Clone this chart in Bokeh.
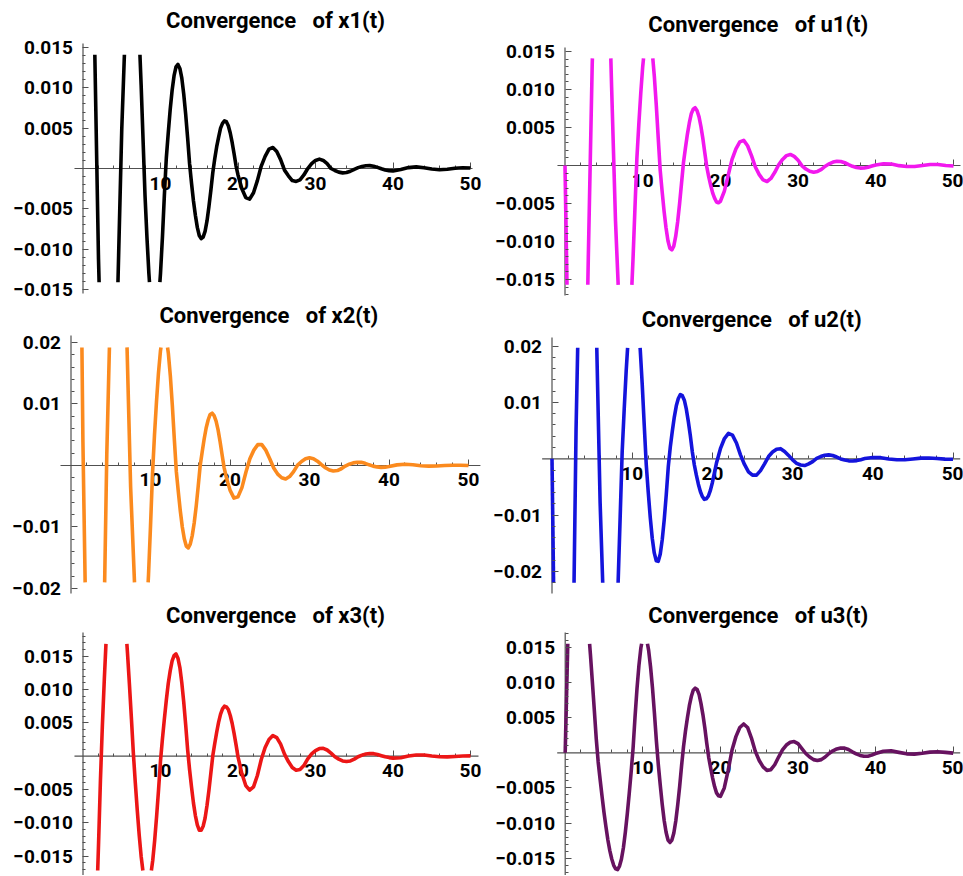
from bokeh.plotting import figure
from bokeh.layouts import column, row
from bokeh.models import Range1d, LinearAxis, FixedTicker, CustomJSTickFormatter, Label
from bokeh.embed import file_html
from bokeh.resources import INLINE

# time samples (t), main grid
t = [0, 0.5, 1, 1.5, 2, 2.5, 3, 3.5, 4, 4.5,
     5, 5.5, 6, 6.5, 7, 7.5, 8, 8.5, 9, 9.5,
     10, 10.5, 11, 11.5, 12, 12.5, 13, 13.5, 14, 14.5,
     15, 15.5, 16, 16.5, 17, 17.5, 18, 18.5, 19, 19.5,
     20, 20.5, 21, 21.5, 22, 22.5, 23, 23.5, 24, 24.5,
     25, 25.5, 26, 26.5, 27, 27.5, 28, 28.5, 29, 29.5,
     30, 30.5, 31, 31.5, 32, 32.5, 33, 33.5, 34, 34.5,
     35, 35.5, 36, 36.5, 37, 37.5, 38, 38.5, 39, 39.5,
     40, 41, 42, 43, 44, 45, 46, 47, 48, 49,
     50]

# extra read-off points where the curves bend strongly
t_q8 = [8.25, 8.75, 9.25, 9.75, 10.25, 10.75, 11.25, 11.75, 12.25, 12.75,
        13.25, 13.75, 14.25, 14.75, 15.25, 15.75, 16.25, 16.75, 17.25, 17.75,
        18.25, 18.75, 19.25, 19.75]
t_q2 = [2.25, 2.75, 3.25, 3.75, 4.25, 4.75, 5.25, 5.75, 6.25, 6.75,
        7.25, 7.75] + t_q8

x1 = [0.0628, 0.0609, 0.0437, 0.0155, -0.0112, -0.0299, -0.0412, -0.0420, -0.0323, -0.0145,
      0.0048, 0.0184, 0.0271, 0.0286, 0.0225, 0.0104, -0.0033, -0.0130, -0.0187, -0.0187,
      -0.0130, -0.0033, 0.0044, 0.0097, 0.0126, 0.0124, 0.0092, 0.0038, -0.0018, -0.0058,
      -0.0083, -0.0085, -0.0065, -0.0027, 0.0012, 0.0039, 0.0056, 0.0058, 0.0044, 0.0018,
      -0.0008, -0.0025, -0.0036, -0.0038, -0.0030, -0.0015, 0.0003, 0.0015, 0.0024, 0.0026,
      0.0021, 0.0011, -0.0002, -0.0009, -0.0015, -0.0016, -0.0014, -0.0008, 0.0000, 0.0006,
      0.0010, 0.00116, 0.0010, 0.0006, 0.0000, -0.00025, -0.00045, -0.00054, -0.0005, -0.00034,
      -0.0001, 0.00011, 0.00026, 0.00035, 0.00036, 0.00029, 0.00014, -0.00003, -0.00018, -0.00027,
      -0.0003, -0.00012, 0.00011, 0.0002, 0.0001, -0.00007, -0.00015, -0.00009, 0.00004, 0.0001,
      0.00007]
x1_q = [-0.0085, -0.0165, -0.0195, -0.0165, -0.0085, 0.0013, 0.0073, 0.0115, 0.0129, 0.0112,
        0.0067, 0.0006, -0.0040, -0.0073, -0.0087, -0.0078, -0.0047, -0.0005, 0.0027, 0.0050,
        0.0059, 0.0053, 0.0032, 0.0003]

u1 = [0.0, -0.0307, -0.0541, -0.0647, -0.0599, -0.0408, -0.0121, 0.0132, 0.0311, 0.0410,
      0.0402, 0.0290, 0.0103, -0.0073, -0.0195, -0.0263, -0.0258, -0.0182, -0.0057, 0.0054,
      0.0130, 0.0171, 0.0166, 0.0117, 0.0036, -0.0034, -0.0082, -0.0109, -0.0106, -0.0074,
      -0.0023, 0.0023, 0.0056, 0.0074, 0.0072, 0.0051, 0.0016, -0.0015, -0.0036, -0.0048,
      -0.0047, -0.0034, -0.0013, 0.0008, 0.0022, 0.0031, 0.0033, 0.0026, 0.0013, -0.0002,
      -0.0012, -0.0019, -0.0021, -0.0017, -0.0009, 0.0001, 0.0008, 0.0013, 0.00145, 0.0012,
      0.0007, -0.00004, -0.00046, -0.00076, -0.00088, -0.00078, -0.0005, -0.00009, 0.00022, 0.00045,
      0.00056, 0.00053, 0.00037, 0.00011, -0.00011, -0.00026, -0.00034, -0.00033, -0.00023, -0.00007,
      0.00007, 0.00024, 0.00019, -0.00002, -0.00014, -0.00013, 0.0, 0.00013, 0.00013, 0.0,
      -0.00007]
u1_q = [-0.0228, -0.0124, 0.0009, 0.0095, 0.0156, 0.0175, 0.0147, 0.0079, -0.0006, -0.0060,
        -0.0099, -0.0111, -0.0093, -0.0050, 0.0004, 0.0041, 0.0068, 0.0076, 0.0064, 0.0035,
        -0.0002, -0.0026, -0.0043, -0.0049]

x2 = [0.1197, 0.107, 0.0647, 0.0038, -0.0371, -0.0663, -0.077, -0.0663, -0.0371, 0.0017,
      0.0280, 0.0465, 0.0519, 0.0428, 0.0217, -0.0035, -0.0194, -0.0298, -0.0315, -0.0242,
      -0.0099, 0.0049, 0.0150, 0.0208, 0.0206, 0.0145, 0.0042, -0.0043, -0.0100, -0.0131,
      -0.0128, -0.0093, -0.0034, 0.0022, 0.0061, 0.0083, 0.0081, 0.0058, 0.0018, -0.0017,
      -0.0040, -0.0053, -0.0051, -0.0036, -0.0011, 0.0011, 0.0025, 0.0034, 0.0034, 0.0025,
      0.0011, -0.0004, -0.0014, -0.0020, -0.0022, -0.0018, -0.0010, 0.00006, 0.00065, 0.00108,
      0.00125, 0.00111, 0.0007, 0.00013, -0.00037, -0.00073, -0.0009, -0.00082, -0.00053, -0.00009,
      0.00021, 0.00043, 0.00053, 0.00051, 0.00035, 0.00011, -0.0001, -0.00023, -0.0003, -0.00027,
      -0.00016, 0.0001, 0.0002, 0.00011, -0.00004, -0.0001, -0.00007, 0.00001, 0.00005, 0.00004,
      0.0]
x2_q = [-0.0255, -0.0318, -0.0290, -0.0178, -0.0014, 0.0103, 0.0186, 0.0215, 0.0182, 0.0097,
        -0.0010, -0.0074, -0.0119, -0.0134, -0.0114, -0.0066, 0.0000, 0.0043, 0.0074, 0.0085,
        0.0072, 0.0039, -0.0003, -0.0029]

u2 = [0.0, -0.0562, -0.0966, -0.1099, -0.0924, -0.0489, 0.0053, 0.0405, 0.0640, 0.0695,
      0.0552, 0.0252, -0.0078, -0.0298, -0.0430, -0.0436, -0.0316, -0.0103, 0.0087, 0.0214,
      0.0283, 0.0276, 0.0194, 0.0060, -0.0059, -0.0141, -0.0181, -0.0169, -0.0107, -0.0014,
      0.0049, 0.0094, 0.0114, 0.0104, 0.0066, 0.0012, -0.0029, -0.0058, -0.0072, -0.0066,
      -0.0042, -0.0008, 0.0018, 0.0036, 0.0045, 0.0042, 0.0028, 0.0007, -0.0010, -0.0023,
      -0.0029, -0.0029, -0.0021, -0.0009, 0.0004, 0.0012, 0.0017, 0.0018, 0.0013, 0.0006,
      -0.0002, -0.0008, -0.0011, -0.0012, -0.0009, -0.0005, 0.00007, 0.0004, 0.00063, 0.0007,
      0.00058, 0.00031, -0.00002, -0.00022, -0.00036, -0.0004, -0.00032, -0.00015, 0.00004, 0.00015,
      0.00023, 0.0002, -0.00002, -0.00018, -0.00018, -0.00002, 0.00012, 0.00014, 0.00004, -0.00005,
      -0.00008]
u2_q = [-0.0217, 0.0012, 0.0156, 0.0258, 0.0290, 0.0244, 0.0132, -0.0010, -0.0104, -0.0167,
        -0.0182, -0.0143, -0.0063, 0.0021, 0.0074, 0.0107, 0.0112, 0.0088, 0.0041, -0.0011,
        -0.0045, -0.0067, -0.0071, -0.0056]

x3 = [-0.0546, -0.0534, -0.0454, -0.0315, -0.0134, 0.0046, 0.0178, 0.0275, 0.0319, 0.0309,
      0.0267, 0.0197, 0.0106, 0.0004, -0.0081, -0.0150, -0.0189, -0.0191, -0.0156, -0.0090,
      -0.0007, 0.0056, 0.0109, 0.0143, 0.01535, 0.0133, 0.0081, 0.0010, -0.0046, -0.0089,
      -0.0111, -0.0105, -0.0074, -0.0025, 0.0019, 0.0051, 0.0071, 0.0074, 0.0061, 0.0034,
      -0.0001, -0.0026, -0.0044, -0.0051, -0.0046, -0.0029, -0.0005, 0.0013, 0.0025, 0.0031,
      0.0028, 0.0018, 0.0003, -0.0008, -0.0017, -0.0021, -0.0020, -0.0014, -0.0004, 0.00035,
      0.00085, 0.00115, 0.00118, 0.00093, 0.00046, -0.00008, -0.00044, -0.00071, -0.0008, -0.00071,
      -0.00044, -0.00008, 0.00016, 0.00032, 0.0004, 0.00038, 0.00026, 0.00008, -0.00009, -0.00021,
      -0.00029, -0.00023, 0.00002, 0.00018, 0.00018, 0.00002, -0.00008, -0.0001, -0.00004, 0.00003,
      0.00005]
x3_q = [-0.0036, 0.0115, 0.0232, 0.0305, 0.0318, 0.0292, 0.0235, 0.0153, 0.0056, -0.0040,
        -0.0118, -0.0174, -0.0195, -0.0178, -0.0126, -0.0050, 0.0026, 0.0084, 0.0128, 0.0151,
        0.0147, 0.0110, 0.0047, -0.0020, -0.0070, -0.0103, -0.0111, -0.0093, -0.0051, 0.0001,
        0.0036, 0.0063, 0.0075, 0.0070, 0.0049, 0.0017]

u3 = [0.0, 0.0233, 0.0330, 0.0320, 0.0289, 0.0240, 0.0176, 0.0101, 0.0020, -0.0038,
      -0.0085, -0.0124, -0.0151, -0.0165, -0.0161, -0.0135, -0.0087, -0.0027, 0.0051, 0.0124,
      0.0164, 0.0161, 0.0122, 0.0056, -0.0017, -0.0073, -0.0113, -0.01275, -0.0114, -0.0074,
      -0.0018, 0.0031, 0.0067, 0.0089, 0.0090, 0.0070, 0.0035, -0.0007, -0.0036, -0.0057,
      -0.0062, -0.0050, -0.0025, 0.0004, 0.0023, 0.0036, 0.0041, 0.0036, 0.0021, 0.0002,
      -0.0011, -0.0020, -0.0025, -0.0024, -0.0017, -0.0006, 0.0004, 0.0011, 0.0015, 0.0016,
      0.0013, 0.0006, -0.0001, -0.0006, -0.00097, -0.0011, -0.00097, -0.0006, -0.0001, 0.00028,
      0.00055, 0.00069, 0.00066, 0.00046, 0.00014, -0.00015, -0.00037, -0.00049, -0.00048, -0.00033,
      -0.0001, 0.00022, 0.00029, 0.00006, -0.00015, -0.00019, -0.00006, 0.0001, 0.00015, 0.00006,
      -0.00005]
u3_q = [0.0267, 0.0210, 0.0140, 0.0061, -0.0013, -0.0062, -0.0105, -0.0139, -0.0160, -0.0166,
        -0.0151, -0.0113, -0.0058, 0.0007, 0.0091, 0.0149, 0.0168, 0.0146, 0.0092, 0.0017,
        -0.0046, -0.0096, -0.0124, -0.0124, -0.0097, -0.0048, 0.0009, 0.0050, 0.0080, 0.0092,
        0.0083, 0.0054, 0.0013, -0.0022, -0.0048, -0.0061]

x_major = [10, 20, 30, 40, 50]
x_minor = [2, 4, 6, 8, 12, 14, 16, 18, 22, 24, 26, 28, 32, 34, 36, 38, 42, 44, 46, 48]

y_major_3 = [-0.015, -0.010, -0.005, 0.005, 0.010, 0.015]
y_major_2 = [-0.02, -0.01, 0.01, 0.02]

FONT = "Roboto"
NB = "\u00a0"

panels = [
    dict(title="Convergence" + NB * 3 + "of x1(t)", y=x1, tq=t_q8, yq=x1_q, color="#000000", w=482, h=302,
         xr=(-10.645, 51.548), yr=(-0.016611, 0.020826), axx=(-1.1, 50.26), axy=(-0.0155, 0.0155),
         clip=(-0.0141, 0.0141), major=y_major_3, step=0.001, mk=(-15, 15), digits=3,
         tx=275, ty=281.7),
    dict(title="Convergence" + NB * 3 + "of u1(t)", y=u1, tq=t_q8, yq=u1_q, color="#F218EE", w=481, h=302,
         xr=(-10.618, 51.287), yr=(-0.018026, 0.021711), axx=(-0.97, 50.9), axy=(-0.01711, 0.01553),
         clip=(-0.0157, 0.0141), major=y_major_3, step=0.001, mk=(-17, 15), digits=3,
         tx=275.8, ty=278.3),
    dict(title="Convergence" + NB * 3 + "of x2(t)", y=x2, tq=t_q8, yq=x2_q, color="#FB8A1E", w=482, h=299,
         xr=(-8.868, 51.761), yr=(-0.022114, 0.026504), axx=(-1.32, 51.5), axy=(-0.0208, 0.02114),
         clip=(-0.0190, 0.0192), major=y_major_2, step=0.002, mk=(-10, 10), digits=2,
         tx=268.3, ty=285.7),
    dict(title="Convergence" + NB * 3 + "of u2(t)", y=u2, tq=t_q8, yq=u2_q, color="#1414DC", w=481, h=299,
         xr=(-8.666, 51.309), yr=(-0.025324, 0.027738), axx=(-1.23, 50.9), axy=(-0.0239, 0.02153),
         clip=(-0.0220, 0.0197), major=y_major_2, step=0.002, mk=(-11, 10), digits=2,
         tx=269.3, ty=282.3),
    dict(title="Convergence" + NB * 3 + "of x3(t)", y=x3, tq=t_q2, yq=x3_q, color="#EC1616", w=482, h=274,
         xr=(-10.645, 51.548), yr=(-0.017894, 0.023204), axx=(-1.1, 51.03), axy=(-0.01789, 0.01855),
         clip=(-0.01715, 0.01686), major=y_major_3, step=0.001, mk=(-17, 18), digits=3,
         tx=275, ty=260.3),
    dict(title="Convergence" + NB * 3 + "of u3(t)", y=u3, tq=t_q2, yq=u3_q, color="#671260", w=481, h=274,
         xr=(-10.657, 51.327), yr=(-0.017446, 0.021513), axx=(-1.03, 50.9), axy=(-0.01745, 0.0171),
         clip=(-0.0170, 0.0155), major=y_major_3, step=0.001, mk=(-17, 17), digits=3,
         tx=275.8, ty=260.3),
]

AXIS_COLOR = "#505050"


def clip_runs(ts, vs, lo, hi):
    """Cut the polyline where it leaves the plot range (as the original's PlotRange does)."""
    runs = []
    cur = None
    for i in range(len(ts) - 1):
        xa_, ya_, xb_, yb_ = ts[i], vs[i], ts[i + 1], vs[i + 1]
        dy = yb_ - ya_
        s0, s1 = 0.0, 1.0
        ok = True
        for pp, qq in ((-dy, ya_ - lo), (dy, hi - ya_)):
            if pp == 0:
                if qq < 0:
                    ok = False
            else:
                r = qq / pp
                if pp < 0:
                    s0 = max(s0, r)
                else:
                    s1 = min(s1, r)
        if not ok or s0 > s1:
            cur = None
            continue
        ax_, ay_ = xa_ + s0 * (xb_ - xa_), ya_ + s0 * dy
        bx_, by_ = xa_ + s1 * (xb_ - xa_), ya_ + s1 * dy
        if cur is not None and s0 == 0.0:
            cur[0].append(bx_)
            cur[1].append(by_)
        else:
            cur = ([ax_, bx_], [ay_, by_])
            runs.append(cur)
        if s1 < 1.0:
            cur = None
    return [r[0] for r in runs], [r[1] for r in runs]


def make(sp):
    p = figure(width=sp["w"], height=sp["h"], x_range=Range1d(*sp["xr"]), y_range=Range1d(*sp["yr"]),
               x_axis_type=None, y_axis_type=None, toolbar_location=None, output_backend="svg",
               title=None, min_border_left=0, min_border_right=0,
               min_border_top=0, min_border_bottom=0)
    p.outline_line_color = None
    p.background_fill_color = "white"
    p.border_fill_color = "white"

    ax0, ax1 = sp["axx"]
    ay0, ay1 = sp["axy"]
    # axis lines crossing at the origin
    p.segment(x0=[ax0], y0=[0], x1=[ax1], y1=[0], line_color=AXIS_COLOR, line_width=1.2)
    p.segment(x0=[0], y0=[ay0], x1=[0], y1=[ay1], line_color=AXIS_COLOR, line_width=1.2)

    pts = sorted(zip(t + sp["tq"], sp["y"] + sp["yq"]))
    ts = [a for a, b in pts]
    vs = [b for a, b in pts]
    lo, hi = sp["clip"]
    xs, ys = clip_runs(ts, vs, lo, hi)
    p.multi_line(xs=xs, ys=ys, line_width=3.6, line_color=sp["color"], line_join="round")

    xa = LinearAxis(fixed_location=0, ticker=FixedTicker(ticks=x_major, minor_ticks=x_minor))
    k0, k1 = sp["mk"]
    yminor = [round(k * sp["step"], 5) for k in range(k0, k1 + 1) if k % 5 != 0]
    ya = LinearAxis(fixed_location=0, ticker=FixedTicker(ticks=sp["major"], minor_ticks=yminor),
                    formatter=CustomJSTickFormatter(args=dict(d=sp["digits"]), code="""
                        const s = Math.abs(tick).toFixed(d);
                        return tick < 0 ? "\u2212" + s : s;"""))
    for ax in (xa, ya):
        ax.axis_line_color = None
        ax.major_tick_line_color = AXIS_COLOR
        ax.minor_tick_line_color = AXIS_COLOR
        ax.major_tick_in = 6
        ax.major_tick_out = 0
        ax.minor_tick_in = 3
        ax.minor_tick_out = 0
        ax.major_label_text_font = FONT
        ax.major_label_text_font_size = "19px"
        ax.major_label_text_font_style = "bold"
        ax.major_label_text_color = "black"
    xa.major_label_standoff = 8
    ya.major_label_standoff = 10
    xa.level = "underlay"
    p.add_layout(xa, "below")
    p.add_layout(ya, "left")

    p.add_layout(Label(x=sp["tx"], y=sp["ty"], x_units="screen", y_units="screen",
                       text=sp["title"], text_align="center", text_baseline="alphabetic",
                       text_font=FONT, text_font_size="22px", text_font_style="bold",
                       text_color="black"))
    return p


figs = [make(sp) for sp in panels]
layout = column(row(figs[0], figs[1]), row(figs[2], figs[3]), row(figs[4], figs[5]))

open("out.html", "w").write(file_html(layout, INLINE))
